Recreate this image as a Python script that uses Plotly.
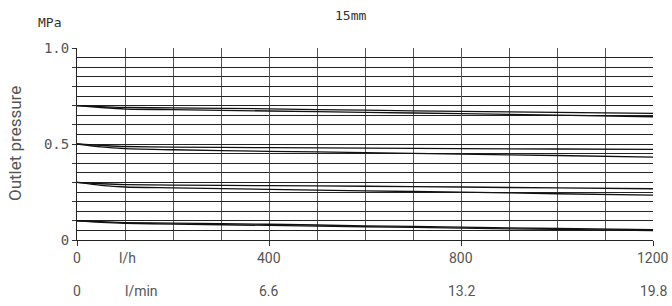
import plotly.graph_objects as go

# Data
flow_lh = [0, 50, 100, 200, 400, 600, 800, 1000, 1200]
p07_upper = [0.70, 0.695, 0.690, 0.688, 0.683, 0.676, 0.670, 0.665, 0.660]
p07_lower = [0.70, 0.690, 0.682, 0.679, 0.672, 0.665, 0.658, 0.650, 0.642]
p05_upper = [0.50, 0.493, 0.487, 0.484, 0.481, 0.478, 0.476, 0.474, 0.472]
p05_lower = [0.50, 0.485, 0.476, 0.470, 0.462, 0.455, 0.447, 0.440, 0.432]
p03_upper = [0.30, 0.293, 0.288, 0.286, 0.283, 0.280, 0.276, 0.271, 0.267]
p03_lower = [0.30, 0.285, 0.276, 0.272, 0.264, 0.256, 0.249, 0.241, 0.234]
p01_upper = [0.10, 0.095, 0.091, 0.088, 0.082, 0.074, 0.067, 0.060, 0.054]
p01_lower = [0.10, 0.092, 0.087, 0.083, 0.076, 0.069, 0.062, 0.055, 0.049]

x_tick_vals = [0, 400, 800, 1200]
x_labels_lh = ["0", "400", "800", "1200"]
x_labels_lmin = ["0", "6.6", "13.2", "19.8"]
y_tick_vals = [0, 0.1, 0.2, 0.3, 0.4, 0.5, 0.6, 0.7, 0.8, 0.9, 1.0]
y_tick_text = ["0", "", "", "", "", "0.5", "", "", "", "", "1.0"]

fig = go.Figure()
for ys in [p07_upper, p07_lower, p05_upper, p05_lower,
           p03_upper, p03_lower, p01_upper, p01_lower]:
    fig.add_trace(go.Scatter(x=flow_lh, y=ys, mode="lines",
                             line=dict(color="#111111", width=1.3, shape="spline", smoothing=0.6),
                             showlegend=False, hoverinfo="skip"))

grey = "#555555"
mono = "DejaVu Sans Mono"
sans = "Roboto"

fig.update_layout(
    width=672, height=306,
    margin=dict(l=77, r=19, t=48, b=66, autoexpand=False),
    paper_bgcolor="white", plot_bgcolor="white",
    xaxis=dict(range=[0, 1200], tickvals=x_tick_vals, showticklabels=False,
               ticks="outside", ticklen=5, tickcolor="#333333",
               showgrid=True, gridcolor="#555555", gridwidth=1,
               minor=dict(dtick=100, showgrid=True, gridcolor="#555555", gridwidth=1, ticks=""),
               showline=True, linecolor="#222222", linewidth=1,
               zeroline=False, fixedrange=True, automargin=False),
    yaxis=dict(range=[0, 1.0], tickvals=y_tick_vals, ticktext=y_tick_text,
               ticks="outside", ticklen=4, tickcolor="#333333",
               tickfont=dict(family=mono, size=14, color=grey),
               showgrid=True, gridcolor="#222222", gridwidth=1,
               minor=dict(dtick=0.05, showgrid=True, gridcolor="#222222", gridwidth=1, ticks=""),
               showline=True, linecolor="#222222", linewidth=1,
               zeroline=False, fixedrange=True, automargin=False),
)

annotations = []
for v, t in zip(x_tick_vals, x_labels_lh):
    annotations.append(dict(x=v, y=-0.094, xref="x", yref="paper", text=t, showarrow=False,
                            yanchor="middle", font=dict(family=sans, size=14, color=grey)))
for v, t in zip(x_tick_vals, x_labels_lmin):
    annotations.append(dict(x=v, y=-0.266, xref="x", yref="paper", text=t, showarrow=False,
                            yanchor="middle", font=dict(family=sans, size=14, color=grey)))
annotations.append(dict(x=105, y=-0.094, xref="x", yref="paper", text="l/h", showarrow=False,
                        yanchor="middle", font=dict(family=sans, size=14, color=grey)))
annotations.append(dict(x=135, y=-0.266, xref="x", yref="paper", text="l/min", showarrow=False,
                        yanchor="middle", font=dict(family=sans, size=14, color=grey)))
annotations.append(dict(x=-0.047, y=1.135, xref="paper", yref="paper", text="MPa", showarrow=False,
                        xanchor="center", yanchor="middle", font=dict(family=mono, size=13, color="#333333")))
annotations.append(dict(x=0.475, y=1.17, xref="paper", yref="paper", text="15mm", showarrow=False,
                        xanchor="center", yanchor="middle", font=dict(family=mono, size=13, color="#333333")))
annotations.append(dict(x=-0.1076, y=0.5, xref="paper", yref="paper", text="Outlet pressure",
                        textangle=-90, showarrow=False, xanchor="center", yanchor="middle",
                        font=dict(family=sans, size=17, color=grey)))
fig.update_layout(annotations=annotations)

fig.write_html("out.html", config={"displayModeBar": False},
               post_script="document.body.style.margin='0';")
